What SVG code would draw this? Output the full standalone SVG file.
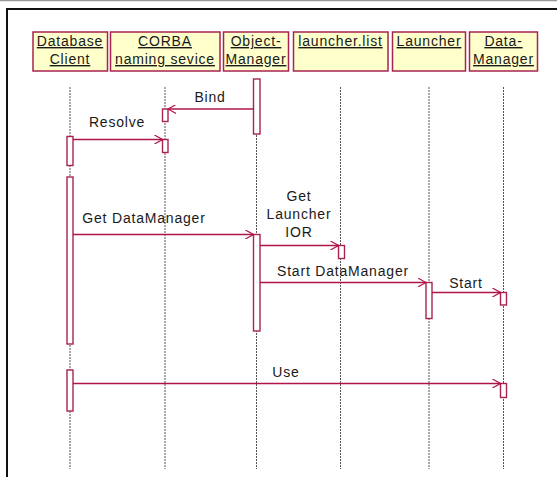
<svg xmlns="http://www.w3.org/2000/svg" width="557" height="477" viewBox="0 0 557 477">
  <defs>
    <style>
      .frame { fill: none; stroke: #111; stroke-width: 2; }
      .box { fill: #ffffcc; stroke: #a8234f; stroke-width: 1.5; }
      .head text { font-family: "Liberation Sans", Arial, sans-serif; font-size: 14px; fill: #1a1a1a; text-anchor: middle; text-decoration: underline; letter-spacing: 0.8px; }
      .life { stroke: #555; stroke-width: 1; stroke-dasharray: 2 1; }
      .act { fill: #fff; stroke: #a8234f; stroke-width: 1.4; }
      .msg line { stroke: #b0144a; stroke-width: 1.3; }
      .msg text { font-family: "Liberation Sans", Arial, sans-serif; font-size: 14px; fill: #1a1a1a; text-anchor: middle; letter-spacing: 0.8px; }
    </style>
    <marker id="open" viewBox="0 0 10 10" refX="9" refY="5" markerWidth="9" markerHeight="9" markerUnits="userSpaceOnUse" orient="auto">
      <path d="M0,0 L9,5 L0,10" fill="none" stroke="#b0144a" stroke-width="1.3"/>
    </marker>
  </defs>

  <rect width="557" height="477" fill="#fff"/>
  <line x1="0" y1="0.5" x2="557" y2="0.5" stroke="#999" stroke-width="1.5"/>
  <path class="frame" d="M7,477 V9 H557"/>

  <!-- lifelines -->
  <g id="lifelines">
    <line class="life" x1="70" y1="87" x2="70" y2="469"/>
    <line class="life" x1="165" y1="87" x2="165" y2="469"/>
    <line class="life" x1="256.5" y1="87" x2="256.5" y2="469"/>
    <line class="life" x1="340.5" y1="87" x2="340.5" y2="469"/>
    <line class="life" x1="429" y1="87" x2="429" y2="469"/>
    <line class="life" x1="503.5" y1="87" x2="503.5" y2="469"/>
  </g>

  <!-- participants with their activation bars -->
  <g id="database-client" class="head">
    <rect class="box" x="33" y="32" width="74.5" height="39"/>
    <text x="70" y="46">Database</text>
    <text x="70" y="64">Client</text>
    <rect class="act" x="67" y="136.5" width="6" height="29"/>
    <rect class="act" x="67" y="177" width="6" height="167"/>
    <rect class="act" x="67" y="370" width="6" height="41"/>
  </g>
  <g id="corba-naming" class="head">
    <rect class="box" x="110.5" y="32" width="109.5" height="39"/>
    <text x="165" y="46">CORBA</text>
    <text x="165" y="64">naming sevice</text>
    <rect class="act" x="162.5" y="109" width="5.5" height="12.5"/>
    <rect class="act" x="162.5" y="139.5" width="5.5" height="13"/>
  </g>
  <g id="object-manager" class="head">
    <rect class="box" x="223.5" y="32" width="65" height="39"/>
    <text x="256" y="46">Object-</text>
    <text x="256" y="64">Manager</text>
    <rect class="act" x="253.5" y="79" width="6.5" height="55"/>
    <rect class="act" x="253.5" y="234.5" width="6.5" height="96.5"/>
  </g>
  <g id="launcher-list" class="head">
    <rect class="box" x="293.5" y="32" width="94.5" height="39"/>
    <text x="340.5" y="46">launcher.list</text>
    <rect class="act" x="338.5" y="245.5" width="6" height="13"/>
  </g>
  <g id="launcher" class="head">
    <rect class="box" x="392.5" y="32" width="73" height="39"/>
    <text x="429" y="46">Launcher</text>
    <rect class="act" x="426" y="282.5" width="6" height="36"/>
  </g>
  <g id="data-manager" class="head">
    <rect class="box" x="469.5" y="32" width="68" height="39"/>
    <text x="503.5" y="46">Data-</text>
    <text x="503.5" y="64">Manager</text>
    <rect class="act" x="500.5" y="292.5" width="6" height="12.5"/>
    <rect class="act" x="500.5" y="383.5" width="6" height="14"/>
  </g>

  <!-- messages -->
  <g id="messages" class="msg">
    <line x1="253.5" y1="109" x2="168" y2="109" marker-end="url(#open)"/>
    <text x="210" y="101.5">Bind</text>

    <line x1="73" y1="139.5" x2="162.5" y2="139.5" marker-end="url(#open)"/>
    <text x="117" y="126.5">Resolve</text>

    <line x1="73" y1="234.5" x2="253.5" y2="234.5" marker-end="url(#open)"/>
    <text x="144" y="222.5">Get DataManager</text>

    <line x1="260" y1="245.5" x2="338.5" y2="245.5" marker-end="url(#open)"/>
    <text x="299" y="200.5">Get</text>
    <text x="299" y="218.5">Launcher</text>
    <text x="299" y="236.5">IOR</text>

    <line x1="260" y1="282.5" x2="426" y2="282.5" marker-end="url(#open)"/>
    <text x="343" y="276">Start DataManager</text>

    <line x1="432" y1="292.5" x2="500.5" y2="292.5" marker-end="url(#open)"/>
    <text x="466" y="288">Start</text>

    <line x1="73" y1="383.5" x2="500.5" y2="383.5" marker-end="url(#open)"/>
    <text x="286" y="377">Use</text>
  </g>
</svg>
